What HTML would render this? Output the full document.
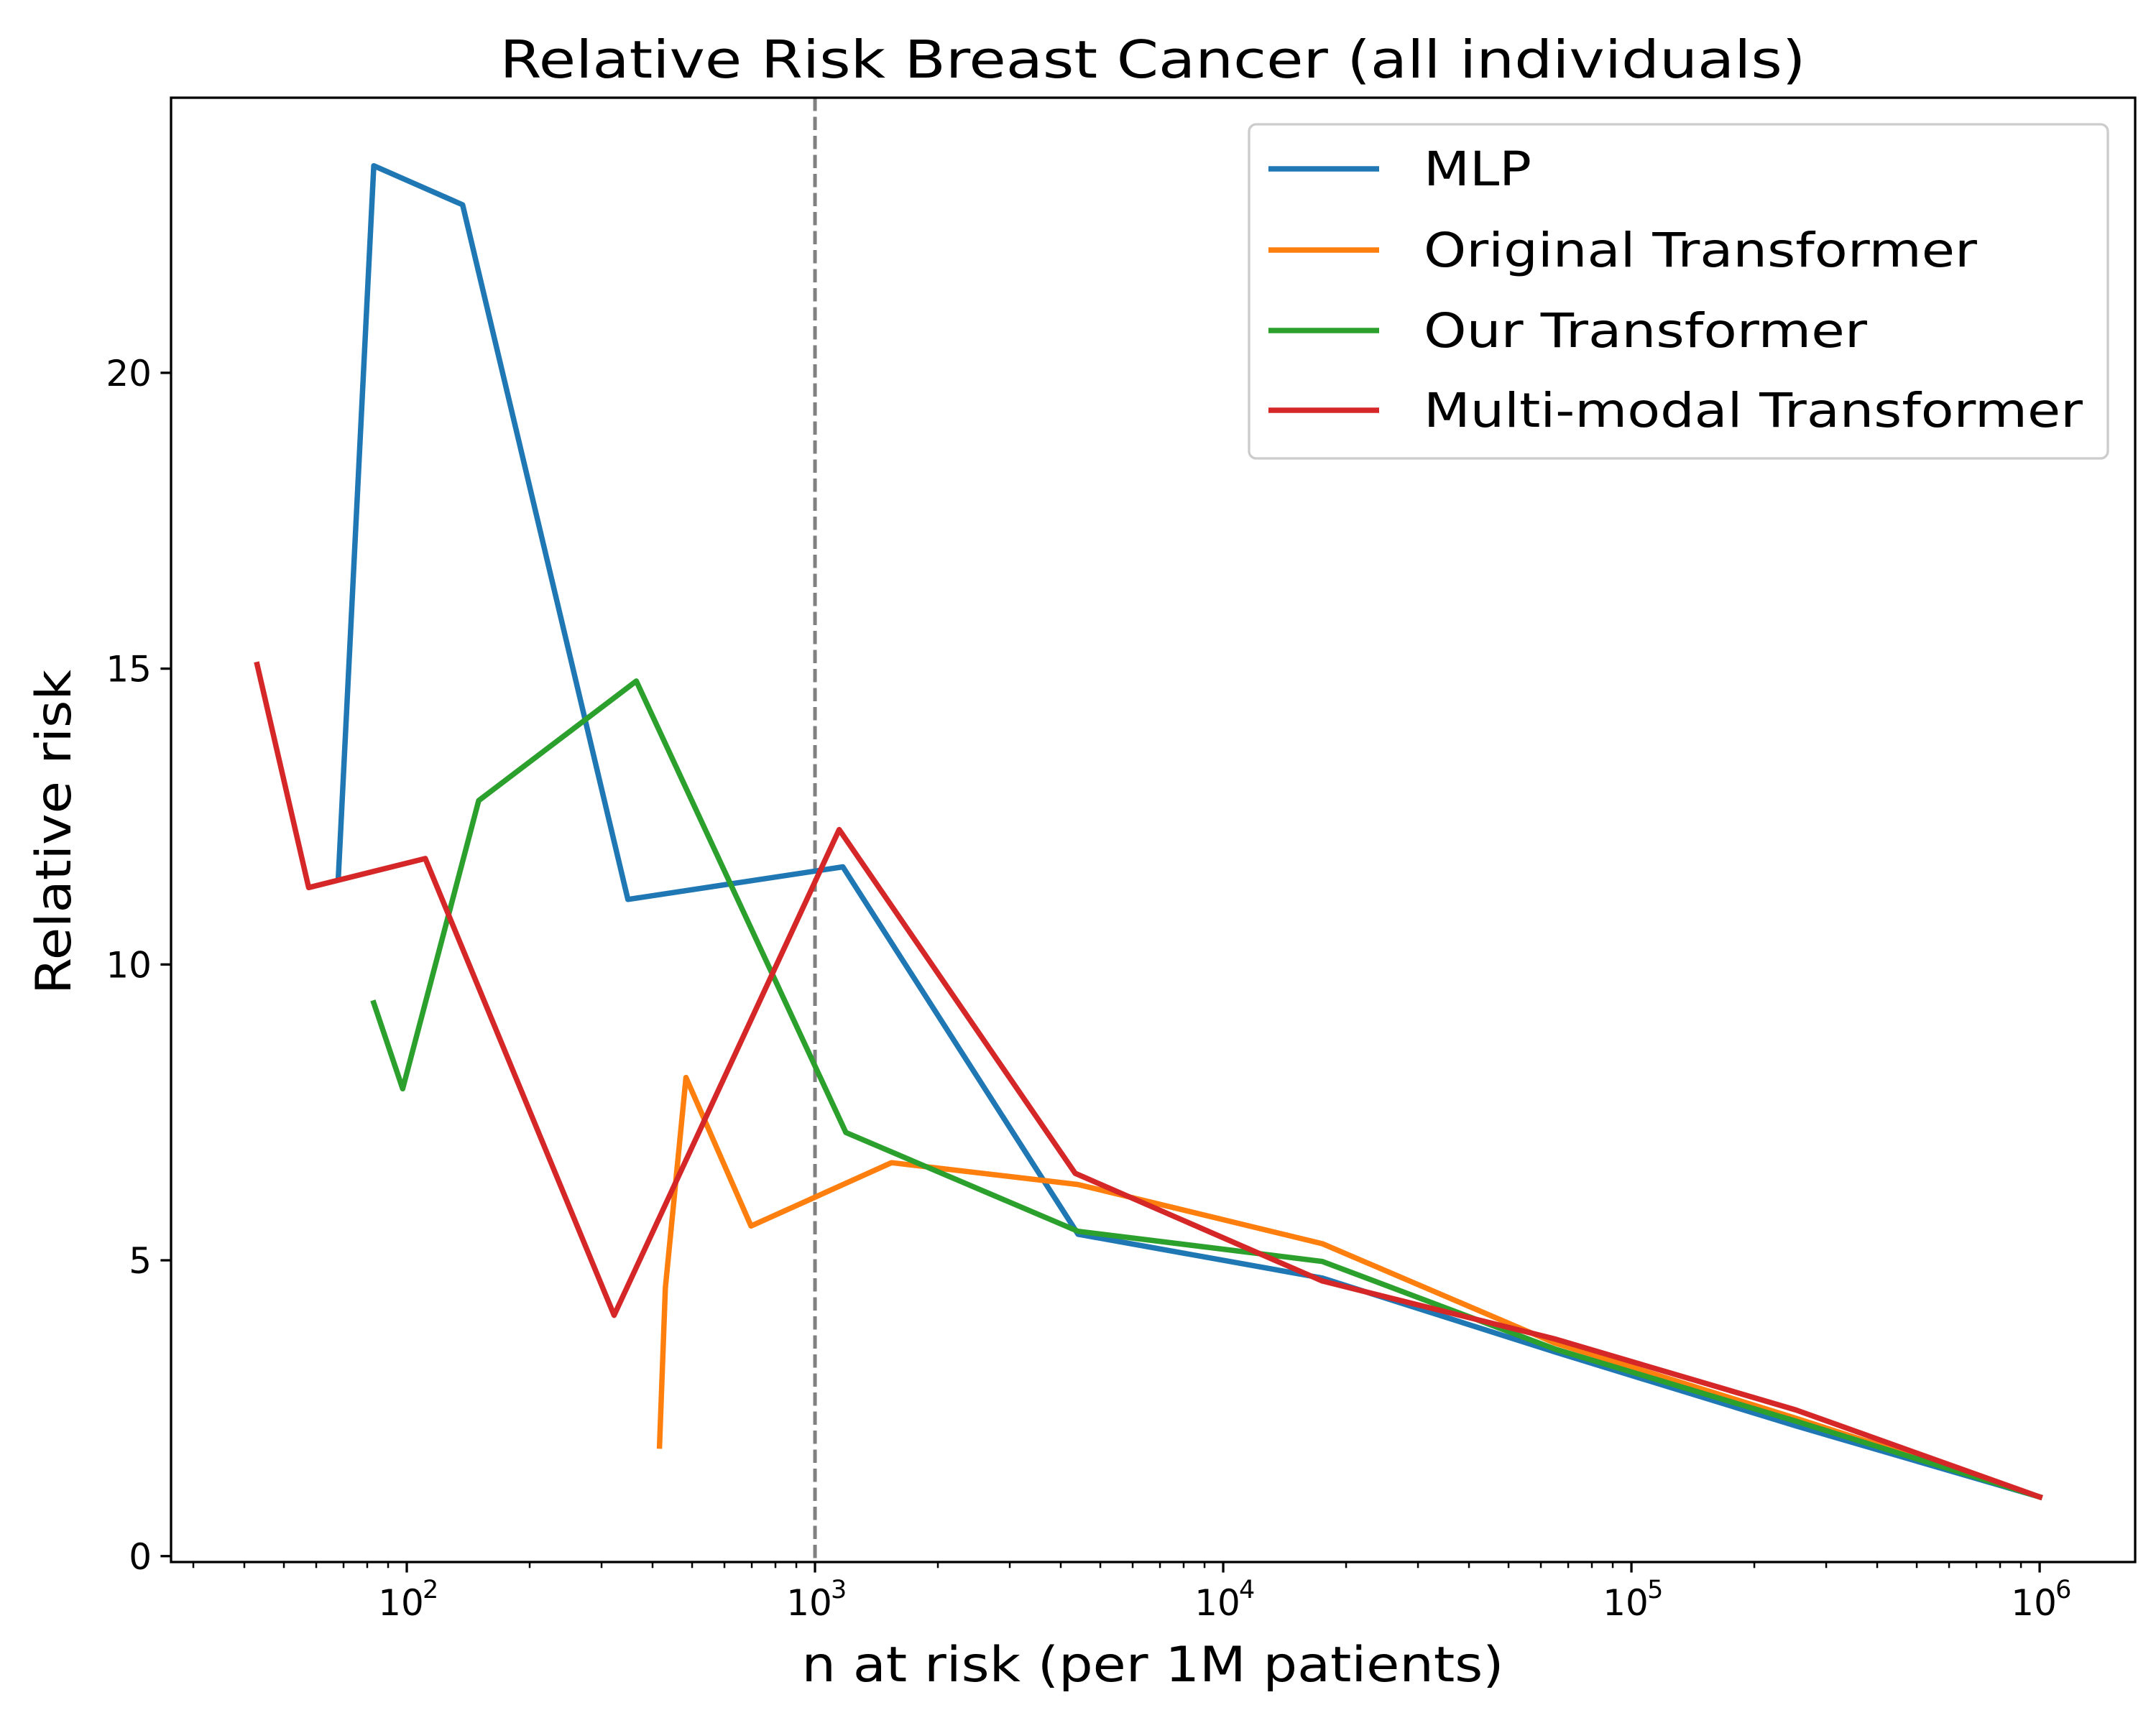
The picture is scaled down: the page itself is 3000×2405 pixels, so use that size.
<!DOCTYPE html>
<html><head><meta charset="utf-8"><style>
html,body{margin:0;padding:0;background:#fff}
svg text{font-family:"DejaVu Sans","Liberation Sans",sans-serif;fill:#000}
</style></head><body>
<svg id="chart" width="3000" height="2400" viewBox="0 0 3000 2400" xmlns="http://www.w3.org/2000/svg">
<rect width="3000" height="2400" fill="#fff"/>
<g id="plot"></g>
<text x="1604" y="108" font-size="72" text-anchor="middle" textLength="1817" lengthAdjust="spacingAndGlyphs">Relative Risk Breast Cancer (all individuals)</text>
<text x="1604" y="2340" font-size="68" text-anchor="middle" textLength="977" lengthAdjust="spacingAndGlyphs">n at risk (per 1M patients)</text>
<text x="0" y="0" font-size="68" text-anchor="middle" textLength="452" lengthAdjust="spacingAndGlyphs" transform="translate(98,1158) rotate(-90)">Relative risk</text>
</svg>
<script>
const seriesNames = ["MLP","Original Transformer","Our Transformer","Multi-modal Transformer"];
const seriesColors = ["#1f77b4","#ff7f0e","#2ca02c","#d62728"];
const mlpX = [68,83,137,348,1170,4410,17500,65000,253000,1000000];
const mlpY = [11.5,23.5,22.84,11.1,11.65,5.44,4.7,3.45,2.2,1.0];
const origX = [416,430,483,697,1540,4410,17500,65000,253000,1000000];
const origY = [1.86,4.53,8.09,5.58,6.65,6.28,5.28,3.6,2.33,1.0];
const ourX = [83,97.7,150,365,1190,4410,17500,65000,253000,1000000];
const ourY = [9.35,7.9,12.77,14.79,7.16,5.49,4.98,3.5,2.28,1.0];
const mmX = [43,57.5,111,322,1146,4340,17500,65000,253000,1000000];
const mmY = [15.07,11.3,11.79,4.07,12.28,6.47,4.65,3.67,2.47,1.0];
const yTicks = [0,5,10,15,20];
const xTickExps = [2,3,4,5,6];
const refLineX = 1000;

const NS="http://www.w3.org/2000/svg";
const L=238,R=2971,T=136,B=2174;
const xMinLog=1.4225,xMaxLog=6.234,yMin=-0.1,yMax=24.65;
function xs(v){return L+(Math.log10(v)-xMinLog)/(xMaxLog-xMinLog)*(R-L);}
function ys(v){return B-(v-yMin)/(yMax-yMin)*(B-T);}
const g=document.getElementById('plot');
function mk(tag,attrs,parent){const e=document.createElementNS(NS,tag);for(const k in attrs)e.setAttribute(k,attrs[k]);(parent||g).appendChild(e);return e;}

const ref=mk('line',{x1:xs(refLineX),x2:xs(refLineX),y1:T,y2:B,stroke:'#808080','stroke-width':5,'stroke-dasharray':'18.5,8'});



const xsArr=[mlpX,origX,ourX,mmX], ysArr=[mlpY,origY,ourY,mmY];
const lineNames=['line-mlp','line-original-transformer','line-our-transformer','line-multimodal-transformer'];
for(let s=0;s<4;s++){
  const pts=xsArr[s].map((x,i)=>xs(x).toFixed(1)+','+ys(ysArr[s][i]).toFixed(1)).join(' ');
  const p=mk('polyline',{points:pts,fill:'none',stroke:seriesColors[s],'stroke-width':7.5,'stroke-linejoin':'round','stroke-linecap':'square'});
  
  
}

const fr=mk('rect',{x:L,y:T,width:R-L,height:B-T,fill:'none',stroke:'#000','stroke-width':3.3});



yTicks.forEach(v=>{
  const y=ys(v);
  mk('line',{x1:L-14.6,x2:L,y1:y,y2:y,stroke:'#000','stroke-width':3.3});
  const t=mk('text',{x:L-27,y:y+18,'font-size':50,'text-anchor':'end'});
  t.textContent=v;
  
  
});
xTickExps.forEach(e=>{
  const x=xs(Math.pow(10,e));
  mk('line',{x1:x,x2:x,y1:B,y2:B+14.6,stroke:'#000','stroke-width':3.3});
  const t=mk('text',{x:x-8,y:B+74,'font-size':50,'text-anchor':'middle'});
  t.textContent='10';
  
  
  const s=mk('text',{x:x+22,y:B+50,'font-size':35,'text-anchor':'start'});
  s.textContent=String(e);
  
  
});
for(let e=1;e<=6;e++){for(let m=2;m<=9;m++){const v=m*Math.pow(10,e);const lv=Math.log10(v);if(lv<xMinLog||lv>xMaxLog)continue;const x=xs(v);mk('line',{x1:x,x2:x,y1:B,y2:B+8.3,stroke:'#000','stroke-width':2.5});}}

const lg=mk('g',{});


mk('rect',{x:1738,y:173,width:1195,height:465,rx:10,fill:'#fff','fill-opacity':0.8,stroke:'#cccccc','stroke-width':3.3},lg);
const rows=[235,348,460,571];
const lens=[150,770,617,917];
seriesNames.forEach((n,i)=>{
  const e=mk('g',{},lg);
  
  
  mk('line',{x1:1765,x2:1919,y1:rows[i],y2:rows[i],stroke:seriesColors[i],'stroke-width':7.5},e);
  const t=mk('text',{x:1981,y:rows[i]+23,'font-size':66,textLength:lens[i],lengthAdjust:'spacingAndGlyphs'},e);
  t.textContent=n;
});
</script>
</body></html>
